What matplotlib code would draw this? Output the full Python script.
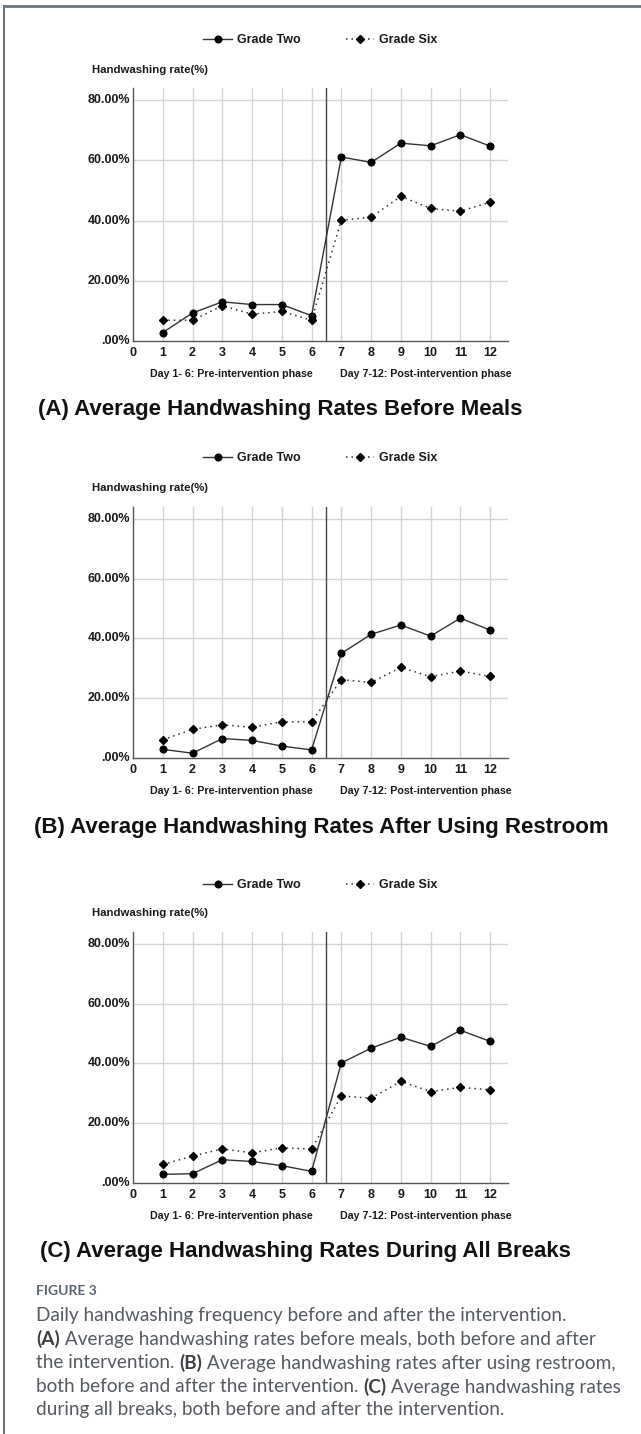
"""Daily handwashing rates, Grade Two vs Grade Six, three panels."""

import matplotlib
matplotlib.use('Agg')
import matplotlib.pyplot as plt
from matplotlib.lines import Line2D

W, H = 641, 1434

# Данные
days = list(range(1, 13))
grade_two_meals = [2.8, 9.3, 13.0, 12.1, 12.1, 8.4, 61.1, 59.3, 65.7, 64.8, 68.5, 64.7]
grade_six_meals = [6.9, 6.9, 11.7, 8.9, 9.8, 6.9, 40.1, 41.1, 48.0, 44.0, 43.1, 46.1]
grade_two_restroom = [2.9, 1.6, 6.5, 5.9, 4.0, 2.7, 35.0, 41.4, 44.5, 40.8, 46.8, 42.8]
grade_six_restroom = [6.1, 9.6, 11.1, 10.3, 12.1, 12.1, 26.2, 25.3, 30.3, 27.2, 29.1, 27.3]
grade_two_breaks = [2.9, 3.1, 7.8, 7.2, 5.8, 3.9, 40.2, 45.1, 48.8, 45.7, 51.1, 47.4]
grade_six_breaks = [6.2, 9.0, 11.4, 10.1, 11.8, 11.3, 29.1, 28.4, 34.0, 30.6, 32.0, 31.2]

x_ticks = list(range(0, 13))
y_ticks = [0, 20, 40, 60, 80]
y_tick_labels = ['.00%', '20.00%', '40.00%', '60.00%', '80.00%']
series_labels = ['Grade Two', 'Grade Six']
phase_labels = ['Day 1- 6: Pre-intervention phase', 'Day 7-12: Post-intervention phase']
titles = [
    '(A) Average Handwashing Rates Before Meals',
    '(B) Average Handwashing Rates After Using Restroom',
    '(C) Average Handwashing Rates During All Breaks',
]

panels = [
    (grade_two_meals, grade_six_meals),
    (grade_two_restroom, grade_six_restroom),
    (grade_two_breaks, grade_six_breaks),
]

# pixel layout: axis top, axis bottom, legend y, ylabel y, title x
layout = [
    (88, 341, 40, 70, 38),
    (507, 758, 458, 488, 34),
    (932, 1183, 885, 913, 40),
]

plt.rcParams['font.family'] = ['Liberation Sans', 'DejaVu Sans']

fig = plt.figure(figsize=(W / 100, H / 100), dpi=100)


def fx(px):
    return px / W


def fy(py):
    return 1 - py / H


TXT = '#1a1a1a'
GRID = '#d4d4d4'
SPINE = '#555555'

for (two, six), (top, bottom, leg_y, lab_y, title_x), title in zip(panels, layout, titles):
    ax = fig.add_axes([fx(133), fy(bottom), fx(508) - fx(133), fy(top) - fy(bottom)])
    ax.set_xlim(0, 12.6)
    ax.set_ylim(0, 84)

    ax.set_xticks(x_ticks)
    ax.set_xticklabels([str(t) for t in x_ticks], fontsize=9, fontweight='bold', color=TXT)
    ax.set_yticks(y_ticks)
    ax.set_yticklabels(y_tick_labels, fontsize=9, fontweight='bold', color=TXT)
    ax.tick_params(axis='x', length=0, pad=4)
    ax.tick_params(axis='y', length=0, pad=2)
    for lbl in ax.get_yticklabels():
        lbl.set_verticalalignment('center')

    for d in days:
        ax.axvline(d, color=GRID, lw=1.0, zorder=0)
    for v in y_ticks[1:]:
        ax.axhline(v, color=GRID, lw=1.0, zorder=0)

    for s in ['top', 'right']:
        ax.spines[s].set_visible(False)
    for s in ['left', 'bottom']:
        ax.spines[s].set_color(SPINE)
        ax.spines[s].set_linewidth(1.0)

    ax.axvline(6.5, color='#444444', lw=1.0, zorder=1)

    l1, = ax.plot(days, two, color='#333333', lw=1.0, marker='o', ms=4.8,
                  mfc='black', mec='black', label=series_labels[0], zorder=3)
    l2, = ax.plot(days, six, color='#333333', lw=1.1, dashes=(1, 2.6), marker='D', ms=4.4,
                  mfc='black', mec='black', label=series_labels[1], zorder=3)

    fig.legend(handles=[l1, l2], loc='center left', bbox_to_anchor=(fx(197), fy(leg_y)),
               ncol=2, frameon=False, borderpad=0, handlelength=2.3, handletextpad=0.4,
               columnspacing=3.6, prop={'size': 9, 'weight': 'bold'}, labelcolor=TXT)

    fig.text(fx(92), fy(lab_y), 'Handwashing rate(%)', fontsize=8.2, fontweight='bold',
             color=TXT, ha='left', va='center')

    phase_y = bottom + 33
    fig.text(fx(231), fy(phase_y), phase_labels[0], fontsize=7.7, fontweight='bold',
             color=TXT, ha='center', va='center')
    fig.text(fx(426), fy(phase_y), phase_labels[1], fontsize=7.7, fontweight='bold',
             color=TXT, ha='center', va='center')

    fig.text(fx(title_x), fy(bottom + 69), title, fontsize=16, fontweight='bold',
             color='#111111', ha='left', va='center')

# рамка
fig.add_artist(Line2D([fx(4), 1], [fy(6), fy(6)], color='#6b7480', lw=2))
fig.add_artist(Line2D([fx(4), fx(4)], [fy(6), 0], color='#6b7480', lw=1.5))

# подпись
CAP = '#555a60'
cap_font = ['Lato', 'DejaVu Sans']
cap_x = 36
fig.text(fx(cap_x), fy(1291), 'FIGURE 3', fontsize=10, fontweight='bold', color='#5c6670',
         family=cap_font, ha='left', va='center')

caption_lines = [
    [('Daily handwashing frequency before and after the intervention.', False)],
    [('(A)', True), (' Average handwashing rates before meals, both before and after', False)],
    [('the intervention. ', False), ('(B)', True), (' Average handwashing rates after using restroom,', False)],
    [('both before and after the intervention. ', False), ('(C)', True), (' Average handwashing rates', False)],
    [('during all breaks, both before and after the intervention.', False)],
]
line_ys = [1315, 1339, 1363, 1387, 1410]

renderer = fig.canvas.get_renderer()
for parts, ly in zip(caption_lines, line_ys):
    x = fx(cap_x)
    for text, bold in parts:
        t = fig.text(x, fy(ly), text, fontsize=13.7, color='#3a3f44' if bold else CAP,
                     fontweight='bold' if bold else 'normal', family=cap_font,
                     ha='left', va='center')
        bb = t.get_window_extent(renderer=renderer)
        x += bb.width / W

fig.savefig('out.png', dpi=100)
